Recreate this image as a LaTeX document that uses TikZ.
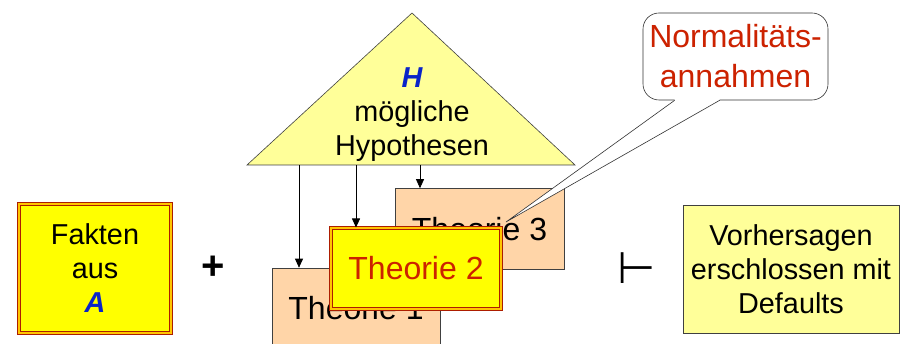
\documentclass[tikz,border=0pt]{standalone}
\usepackage{fontspec}
\setmainfont{Liberation Sans}
\newfontfamily\symfont{DejaVu Sans}
\usetikzlibrary{arrows.meta,positioning,calc}
\definecolor{gelb}{HTML}{FFFF00}
\definecolor{hellgelb}{HTML}{FFFF99}
\definecolor{pfirsich}{HTML}{FFD5A8}
\definecolor{rot}{HTML}{CC2200}
\definecolor{blau}{HTML}{0A24C8}

\begin{document}
\begin{tikzpicture}[x=1pt, y=-1pt, >={Triangle[length=9pt, width=8pt]},
    every node/.style={font=\fontsize{28.8}{34}\selectfont, align=center, inner sep=0pt},
    gross/.style={font=\fontsize{32}{40}\selectfont},
    fakt/.style={fill=gelb, draw=rot!85!black, line width=1pt, double=orange!45!yellow, double distance=1.2pt},
    theo/.style={gross, fill=pfirsich, draw=black!75, line width=0.6pt, minimum width=169, minimum height=81},
    folge/.style={fill=hellgelb, draw=black!75, line width=0.6pt},
    pfeil/.style={->, line width=0.7pt}]
  \useasboundingbox (0,0) rectangle (913,344);
  \clip (0,0) rectangle (913,344);
  % ---- Fakten
  \node[fakt, minimum width=152, minimum height=129] (fakten) at (95,268.5)
    {Fakten\\aus\\{\color{blau}\bfseries\itshape A}};
  \node[font=\fontsize{40}{40}\selectfont\bfseries] (plus) at (213,268) {+};
  % ---- Hypothesen
  \coordinate (spitze) at (412,13);
  \coordinate (links) at (247,165);
  \coordinate (rechts) at (575,165);
  \draw[folge] (spitze) -- (rechts) -- (links) -- cycle;
  \node (hyp) at (412,115) {{\color{blau}\bfseries\itshape H}\\mögliche\\Hypothesen};
  % ---- Theorien
  \node[theo] (theo3) at (479.5,229) {Theorie 3};
  \node[theo, minimum width=168] (theo1) at (356,308.5) {Theorie 1};
  \node[theo, fakt, minimum width=170, text=rot] (theo2) at (416,268.5) {Theorie 2};
  \coordinate (h1) at (299,165);
  \coordinate (h2) at (356,165);
  \coordinate (h3) at (420,165);
  \draw[pfeil] (h1) -- (h1 |- theo1.north);
  \draw[pfeil] (h2) -- (h2 |- theo2.north);
  \draw[pfeil] (h3) -- (h3 |- theo3.north);
  % ---- Normalitaetsannahmen
  \node[gross, draw=black!80, fill=white, line width=0.6pt, rounded corners=16pt,
    minimum width=185, minimum height=87, text=rot] (normal) at (735.5,56.5)
    {Normalitäts-\\annahmen};
  \coordinate (spitz) at (506,222);
  \coordinate (fuss1) at ($(normal.south west)+(32,0)$);
  \coordinate (fuss2) at ($(normal.south west)+(77,0)$);
  \fill[white] (fuss1) -- (spitz) -- (fuss2) -- ($(fuss2)+(0,-2)$) -- ($(fuss1)+(0,-2)$) -- cycle;
  \draw[line width=0.6pt, black!80] (fuss1) -- (spitz) -- (fuss2);
  % ---- Folgerung
  \node[font=\fontsize{44}{44}\selectfont\symfont] (folgt) at (637,268) {⊢};
  \node[folge, minimum width=216, minimum height=128] (vorher) at (791,269)
    {Vorhersagen\\erschlossen mit\\Defaults};
\end{tikzpicture}
\end{document}
